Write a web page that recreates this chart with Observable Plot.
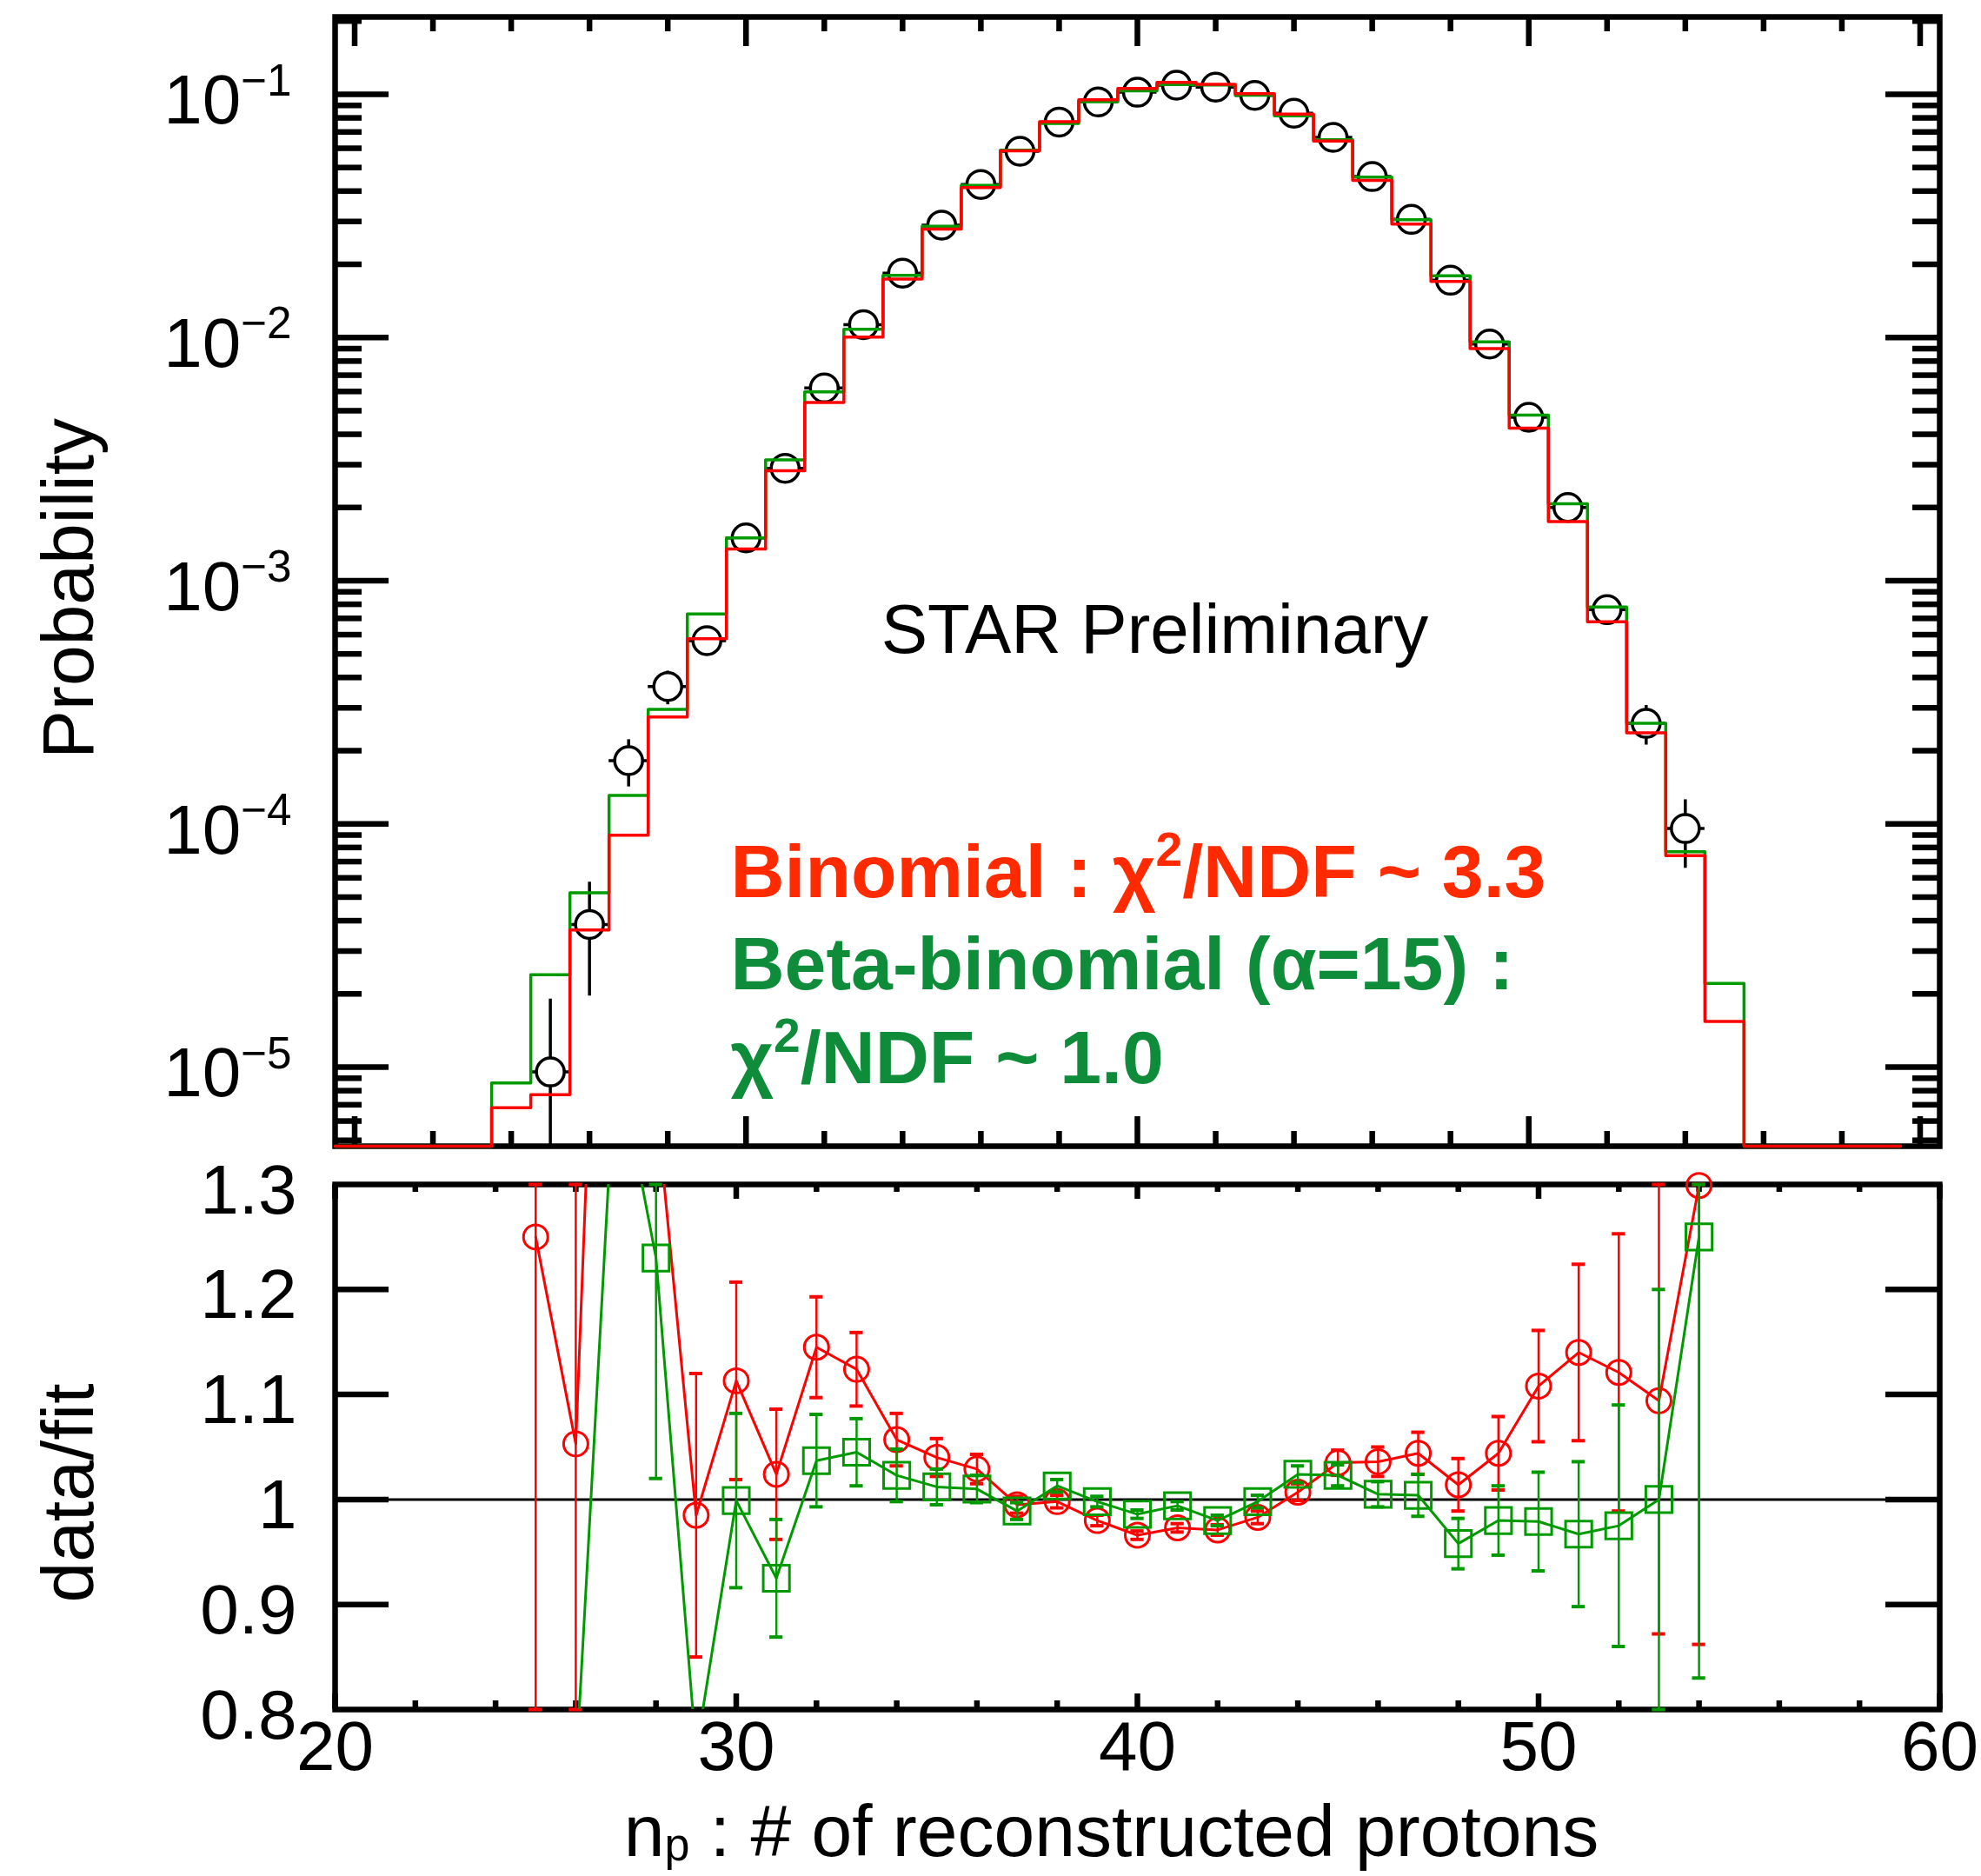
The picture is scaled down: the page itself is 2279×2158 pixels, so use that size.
<!DOCTYPE html>
<html><head><meta charset="utf-8">
<script src="https://cdn.jsdelivr.net/npm/d3@7"></script>
<script src="https://cdn.jsdelivr.net/npm/@observablehq/plot@0.6"></script>
<style>
body{margin:0;background:#fff}
#wrap{position:relative;width:2279px;height:2158px;background:#fff;overflow:hidden}
#wrap svg{position:absolute;left:0;overflow:visible}
</style>
</head><body><div id="wrap"></div>
<script>
// ---------- DATA ----------
// top panel: bins n = 20..59
const binN = [20,21,22,23,24,25,26,27,28,29,30,31,32,33,34,35,36,37,38,39,40,41,42,43,44,45,46,47,48,49,50,51,52,53,54,55,56,57,58,59];
const binomial = [0,0,0,0,6.8e-6,7.7e-6,3.66e-5,8.98e-5,2.75e-4,5.77e-4,1.35e-3,2.83e-3,5.41e-3,1.005e-2,1.74e-2,2.79e-2,4.14e-2,5.86e-2,7.71e-2,9.49e-2,0.1056,0.112,0.110,0.1007,0.0830,0.0643,0.0443,0.0293,0.0170,0.0090,4.24e-3,1.75e-3,6.78e-4,2.37e-4,7.41e-5,1.54e-5,0,0,0,0];
const betaBinomial = [0,0,0,0,8.6e-6,2.40e-5,5.21e-5,1.31e-4,2.96e-4,7.3e-4,1.50e-3,3.14e-3,5.98e-3,1.081e-2,1.80e-2,2.87e-2,4.22e-2,5.89e-2,7.59e-2,9.32e-2,0.1034,0.1097,0.1092,0.0992,0.0816,0.0651,0.0457,0.0305,0.01795,9.59e-3,4.8e-3,2.07e-3,7.8e-4,2.59e-4,7.68e-5,2.21e-5,0,0,0,0];
// measured points n = 25..54
const dataN = [25,26,27,28,29,30,31,32,33,34,35,36,37,38,39,40,41,42,43,44,45,46,47,48,49,50,51,52,53,54];
const dataP = [9.55e-6,3.86e-5,1.82e-4,3.67e-4,5.67e-4,1.50e-3,2.90e-3,6.2e-3,1.13e-2,1.84e-2,2.90e-2,4.26e-2,5.83e-2,7.69e-2,9.3e-2,0.102,0.109,0.107,0.099,0.0836,0.0665,0.0459,0.0306,0.0172,9.4e-3,4.7e-3,2.0e-3,7.6e-4,2.59e-4,9.57e-5];
const dataErr = [9.5e-6,1.9e-5,4.0e-5,5.8e-5,7.7e-5,1.26e-4,1.75e-4,2.6e-4,3.5e-4,4.4e-4,4.6e-4,5.5e-4,4.7e-4,4.6e-4,4.6e-4,4.1e-4,4.4e-4,5.3e-4,5.9e-4,6.7e-4,7.7e-4,6.2e-4,5.9e-4,4.2e-4,3.2e-4,2.2e-4,1.5e-4,9e-5,4.8e-5,3.0e-5];
// ratio panel
const ratioBinomial = [1.250,1.053,2.03,1.38,0.985,1.113,1.024,1.145,1.124,1.057,1.040,1.029,0.995,0.998,0.980,0.966,0.973,0.971,0.983,1.007,1.035,1.036,1.044,1.014,1.044,1.108,1.140,1.121,1.094,1.299];
const ratioBinomialErr = [1.25,0.52,0.5,0.3,0.135,0.094,0.062,0.048,0.035,0.025,0.018,0.014,0.008,0.006,0.005,0.004,0.004,0.005,0.006,0.008,0.012,0.014,0.020,0.025,0.035,0.053,0.084,0.132,0.222,0.437];
const ratioBeta = [0.40,0.74,1.43,1.230,0.76,0.999,0.925,1.037,1.045,1.023,1.012,1.010,0.989,1.013,0.998,0.986,0.994,0.980,0.998,1.024,1.023,1.005,1.004,0.958,0.980,0.979,0.967,0.975,1.000,1.250];
const ratioBetaErr = [0.4,0.37,0.3,0.21,0.10,0.083,0.056,0.044,0.032,0.025,0.017,0.013,0.008,0.006,0.005,0.004,0.004,0.005,0.006,0.008,0.010,0.012,0.020,0.024,0.033,0.047,0.069,0.115,0.200,0.420];
// ticks & labels
const topXMajor = [20,30,40,50,60];
const topXMinor = [22,24,26,28,32,34,36,38,42,44,46,48,52,54,56,58];
const topYMajor = [1e-5,1e-4,1e-3,1e-2,1e-1];
const topYLabels = ["10^{−5}","10^{−4}","10^{−3}","10^{−2}","10^{−1}"];
const topYMinor = [5e-6,6e-6,7e-6,8e-6,9e-6,2e-5,3e-5,4e-5,5e-5,6e-5,7e-5,8e-5,9e-5,2e-4,3e-4,4e-4,5e-4,6e-4,7e-4,8e-4,9e-4,2e-3,3e-3,4e-3,5e-3,6e-3,7e-3,8e-3,9e-3,2e-2,3e-2,4e-2,5e-2,6e-2,7e-2,8e-2,9e-2,2e-1];
const botXMajor = [20,30,40,50,60];
const botXMinor = [22,24,26,28,32,34,36,38,42,44,46,48,52,54,56,58];
const botXLabels = ["20","30","40","50","60"];
const botYMajor = [0.9,1.0,1.1,1.2];
const botYTickVals = [0.8,0.9,1.0,1.1,1.2,1.3];
const botYLabels = ["0.8","0.9","1","1.1","1.2","1.3"];
const annotation = "STAR Preliminary";
const legendRed = "Binomial : χ^{2}/NDF ~ 3.3";
const legendGreen1 = "Beta-binomial (α=15) :";
const legendGreen2 = "χ^{2}/NDF ~ 1.0";
const xTitle = "n_{p} : # of reconstructed protons";
const yTitleTop = "Probability";
const yTitleBot = "data/fit";

// ---------- STYLE ----------
const RED = "#ff0000", GREEN = "#009a00", RED_T = "#ff2a00", GREEN_T = "#0f8c3a";
const FONT = "'Liberation Sans', Arial, Helvetica, sans-serif";
const FL = 385, FR = 2231;
const ML = FL, MR = 2279 - FR;
const TW = 6.5;
const fw = FR - FL;

// ---------- TOP PANEL ----------
const yMin = Math.pow(10, -5.3253), yMax = Math.pow(10, -0.6819);
const topH = 1340, topMT = 19, topMB = topH - 1318;
const tfh = topH - topMT - topMB;
const steps = (vals) => {
  const s = binN.map((n, i) => ({x: n - 0.5, y: Math.max(vals[i], yMin)}));
  s.push({x: binN[binN.length - 1] + 0.5, y: Math.max(vals[vals.length - 1], yMin)});
  return s;
};
const pts = dataN.map((n, i) => ({n, v: dataP[i], lo: Math.max(dataP[i] - dataErr[i], yMin), hi: dataP[i] + dataErr[i]}));
const legendText = (s, baseline, color) => Plot.text([s], {text: d => d, frameAnchor: "top-left", dx: 840 - FL, dy: baseline - topMT, textAnchor: "start", lineAnchor: "bottom", fontSize: 86, fontWeight: "bold", fill: color});

const topSvg = Plot.plot({
  width: 2279, height: topH, marginTop: topMT, marginBottom: topMB, marginLeft: ML, marginRight: MR,
  x: {domain: [19.5, 60.5], axis: null},
  y: {type: "log", domain: [yMin, yMax], axis: null},
  style: {fontFamily: FONT, background: "white", overflow: "visible"},
  marks: [
    Plot.ruleX(topXMajor, {x: d => d, insetTop: tfh - 34, stroke: "black", strokeWidth: TW}),
    Plot.ruleX(topXMajor, {x: d => d, insetBottom: tfh - 34, stroke: "black", strokeWidth: TW}),
    Plot.ruleX(topXMinor, {x: d => d, insetTop: tfh - 17, stroke: "black", strokeWidth: TW}),
    Plot.ruleX(topXMinor, {x: d => d, insetBottom: tfh - 17, stroke: "black", strokeWidth: TW}),
    Plot.ruleY(topYMajor, {y: d => d, insetRight: fw - 62, stroke: "black", strokeWidth: TW}),
    Plot.ruleY(topYMajor, {y: d => d, insetLeft: fw - 62, stroke: "black", strokeWidth: TW}),
    Plot.ruleY(topYMinor, {y: d => d, insetRight: fw - 31, stroke: "black", strokeWidth: TW}),
    Plot.ruleY(topYMinor, {y: d => d, insetLeft: fw - 31, stroke: "black", strokeWidth: TW}),
    Plot.frame({stroke: "black", strokeWidth: TW}),
    Plot.ruleX(pts, {x: "n", y1: "lo", y2: "hi", stroke: "black", strokeWidth: 3.5, clip: true}),
    Plot.ruleY(pts, {y: "v", x1: d => d.n - 0.5, x2: d => d.n + 0.5, stroke: "black", strokeWidth: 3.5}),
    Plot.dot(pts, {x: "n", y: "v", r: 16, stroke: "black", strokeWidth: 3.5, fill: "white"}),
    Plot.line(steps(betaBinomial), {x: "x", y: "y", curve: "step-after", stroke: GREEN, strokeWidth: 3.5}),
    Plot.line(steps(binomial), {x: "x", y: "y", curve: "step-after", stroke: RED, strokeWidth: 3.5}),
    Plot.text(topYMajor, {y: d => d, text: (d, i) => topYLabels[i], frameAnchor: "left", dx: -50, dy: 34, textAnchor: "end", lineAnchor: "bottom", fontSize: 80, fill: "black"}),
    Plot.text([yTitleTop], {text: d => d, frameAnchor: "left", rotate: -90, dx: 106 - FL, dy: 8, textAnchor: "middle", lineAnchor: "bottom", fontSize: 84, fill: "black"}),
    Plot.text([annotation], {text: d => d, frameAnchor: "top-left", dx: 1328 - FL, dy: 750 - topMT, textAnchor: "middle", lineAnchor: "bottom", fontSize: 80, fill: "black"}),
    legendText(legendRed, 1031, RED_T),
    legendText(legendGreen1, 1137, GREEN_T),
    legendText(legendGreen2, 1245, GREEN_T),
  ]
});

// ---------- BOTTOM PANEL ----------
const botTop = 1340, botH = 2158 - botTop, botMT = 1362 - botTop, botMB = 2158 - 1966;
const bfh = botH - botMT - botMB;
const rMin = 0.8, rMax = 1.3;
const mk = (vals, errs) => dataN.map((n, i) => ({n, v: vals[i], lo: Math.max(vals[i] - errs[i], rMin), hi: Math.min(vals[i] + errs[i], rMax)}));
const redPts = mk(ratioBinomial, ratioBinomialErr);
const grnPts = mk(ratioBeta, ratioBetaErr);
const inR = d => d.v >= rMin && d.v <= rMax;
const capW = 0.165;

const botSvg = Plot.plot({
  width: 2279, height: botH, marginTop: botMT, marginBottom: botMB, marginLeft: ML, marginRight: MR,
  x: {domain: [20, 60], axis: null},
  y: {domain: [rMin, rMax], axis: null},
  style: {fontFamily: FONT, background: "white", overflow: "visible"},
  marks: [
    Plot.ruleY([1.0], {stroke: "black", strokeWidth: 3}),
    Plot.ruleX(botXMajor, {x: d => d, insetTop: bfh - 18, stroke: "black", strokeWidth: TW}),
    Plot.ruleX(botXMajor, {x: d => d, insetBottom: bfh - 17, stroke: "black", strokeWidth: TW}),
    Plot.ruleX(botXMinor, {x: d => d, insetTop: bfh - 10, stroke: "black", strokeWidth: TW}),
    Plot.ruleX(botXMinor, {x: d => d, insetBottom: bfh - 9, stroke: "black", strokeWidth: TW}),
    Plot.ruleY(botYMajor, {y: d => d, insetRight: fw - 62, stroke: "black", strokeWidth: TW}),
    Plot.ruleY(botYMajor, {y: d => d, insetLeft: fw - 62, stroke: "black", strokeWidth: TW}),
    Plot.frame({stroke: "black", strokeWidth: TW}),
    // binomial ratio
    Plot.line(redPts, {x: "n", y: "v", stroke: RED, strokeWidth: 3, clip: true}),
    Plot.ruleX(redPts.filter(inR), {x: "n", y1: "lo", y2: "hi", stroke: RED, strokeWidth: 2.5}),
    Plot.ruleY(redPts.filter(inR), {y: "lo", x1: d => d.n - capW, x2: d => d.n + capW, stroke: RED, strokeWidth: 4}),
    Plot.ruleY(redPts.filter(inR), {y: "hi", x1: d => d.n - capW, x2: d => d.n + capW, stroke: RED, strokeWidth: 4}),
    Plot.dot(redPts.filter(inR), {x: "n", y: "v", r: 14, stroke: RED, strokeWidth: 3, fill: "none"}),
    // beta-binomial ratio
    Plot.line(grnPts, {x: "n", y: "v", stroke: GREEN, strokeWidth: 3, clip: true}),
    Plot.ruleX(grnPts.filter(inR), {x: "n", y1: "lo", y2: "hi", stroke: GREEN, strokeWidth: 2.5}),
    Plot.ruleY(grnPts.filter(inR), {y: "lo", x1: d => d.n - capW, x2: d => d.n + capW, stroke: GREEN, strokeWidth: 4}),
    Plot.ruleY(grnPts.filter(inR), {y: "hi", x1: d => d.n - capW, x2: d => d.n + capW, stroke: GREEN, strokeWidth: 4}),
    Plot.dot(grnPts.filter(inR), {x: "n", y: "v", r: 17, symbol: "square", stroke: GREEN, strokeWidth: 3, fill: "none"}),
    // labels
    Plot.text(botYTickVals, {y: d => d, text: (d, i) => botYLabels[i], frameAnchor: "left", dx: -44, dy: 33, textAnchor: "end", lineAnchor: "bottom", fontSize: 80, fill: "black"}),
    Plot.text(botXMajor, {x: d => d, text: (d, i) => botXLabels[i], frameAnchor: "bottom", dy: 69, textAnchor: "middle", lineAnchor: "bottom", fontSize: 80, fill: "black"}),
    Plot.text([xTitle], {text: d => d, frameAnchor: "bottom", dx: 1278 - (FL + FR) / 2, dy: 2134 - 1966, textAnchor: "middle", lineAnchor: "bottom", fontSize: 84, fill: "black"}),
    Plot.text([yTitleBot], {text: d => d, frameAnchor: "left", rotate: -90, dx: 106 - FL, dy: 1717 - 1664, textAnchor: "middle", lineAnchor: "bottom", fontSize: 84, fill: "black"}),
  ]
});

const wrap = document.getElementById("wrap");
topSvg.style.top = "0px";
botSvg.style.top = botTop + "px";
wrap.appendChild(topSvg);
wrap.appendChild(botSvg);

const ns = "http://www.w3.org/2000/svg";
function rich(svg) {
  svg.querySelectorAll("text").forEach(t => {
    const s = t.textContent;
    if (!/[\^_]\{/.test(s)) return;
    const fs = parseFloat(getComputedStyle(t).fontSize);
    while (t.firstChild) t.removeChild(t.firstChild);
    const re = /([\^_])\{([^}]*)\}/g;
    let last = 0, cur = 0, m;
    const add = (txt, size, off) => {
      const ts = document.createElementNS(ns, "tspan");
      if (size) ts.setAttribute("font-size", size);
      const d = -(off - cur);
      if (d) ts.setAttribute("dy", d);
      cur = off;
      ts.textContent = txt;
      t.appendChild(ts);
    };
    while ((m = re.exec(s))) {
      if (m.index > last) add(s.slice(last, m.index), null, 0);
      if (m[1] === "^") add(m[2], fs * 0.64, fs * 0.41);
      else add(m[2], fs * 0.62, -fs * 0.06);
      last = re.lastIndex;
    }
    if (last < s.length) add(s.slice(last), null, 0);
  });
}
rich(topSvg);
rich(botSvg);
</script>
</body></html>
